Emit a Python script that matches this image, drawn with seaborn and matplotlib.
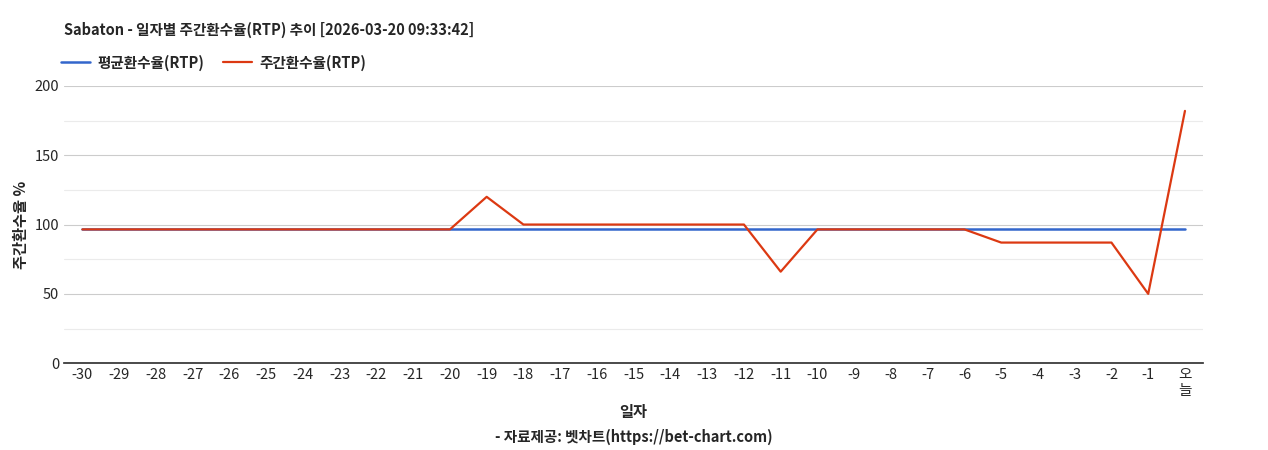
import matplotlib
matplotlib.use("Agg")
import matplotlib.pyplot as plt
import seaborn as sns
import pandas as pd

sns.set_theme(style="white")
plt.rcParams['font.family'] = ['Noto Sans CJK KR', 'DejaVu Sans']

days = [str(i) for i in range(-30, 0)] + ["오\n늘"]
avg_rtp = [96.5] * 31
weekly_rtp = [96.5]*11 + [120] + [100]*7 + [66] + [96.5]*5 + [87]*4 + [50, 182]

df = pd.DataFrame({"x": range(len(days)), "avg": avg_rtp, "week": weekly_rtp})

fig = plt.figure(figsize=(12.68, 4.5), dpi=100)
ax = fig.add_axes([0.0505, 0.193, 0.8985, 0.616])
sns.lineplot(data=df, x="x", y="avg", ax=ax, color="#3366cc", lw=1.8, label="평균환수율(RTP)")
sns.lineplot(data=df, x="x", y="week", ax=ax, color="#dc3912", lw=1.6, label="주간환수율(RTP)")

ax.set_ylim(0, 200)
ax.set_xlim(-0.5, 30.5)
ax.set_yticks([0, 50, 100, 150, 200])
ax.set_yticks([25, 75, 125, 175], minor=True)
ax.grid(axis="y", which="major", color="#cccccc", lw=0.8)
ax.grid(axis="y", which="minor", color="#ebebeb", lw=0.8)
ax.set_axisbelow(True)
ax.set_xticks(range(len(days)))
ax.set_xticklabels(days, fontsize=10.5)
ax.tick_params(axis="y", labelsize=10.5, length=0)
ax.tick_params(axis="x", length=0)
for s in ["top", "right", "left"]:
    ax.spines[s].set_visible(False)
ax.spines["bottom"].set_color("#333333")
ax.set_xlabel("일자", fontsize=11, fontweight="bold")
ax.set_ylabel("주간환수율 %", fontsize=11, fontweight="bold")
ax.legend(loc="lower left", bbox_to_anchor=(-0.003, 1.055), ncol=2, frameon=False,
          prop={"weight": "bold", "size": 10.5}, handlelength=2.0, handletextpad=0.5,
          borderaxespad=0, borderpad=0, columnspacing=1.3)
fig.text(64/1268, 1-30/450, "Sabaton - 일자별 주간환수율(RTP) 추이 [2026-03-20 09:33:42]",
         fontsize=10.5, fontweight="bold", va="center")
fig.text(0.5, 1-437/450, "- 자료제공: 벳차트(https://bet-chart.com)", ha="center",
         fontsize=10.5, fontweight="bold", va="center")
fig.savefig("out.png", dpi=100)
